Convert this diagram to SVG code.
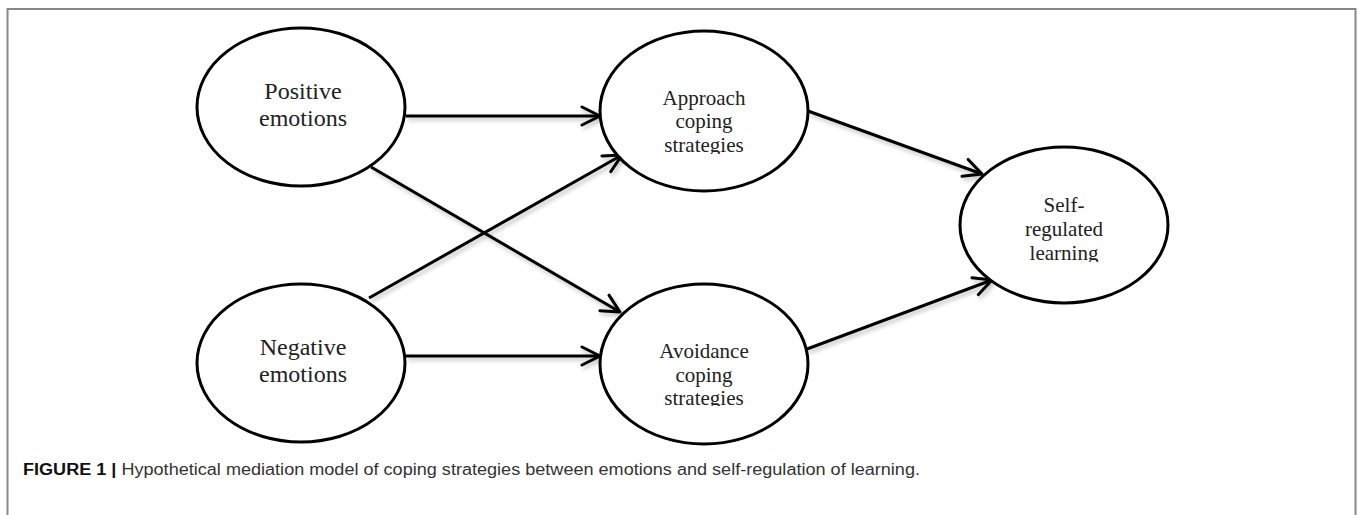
<svg xmlns="http://www.w3.org/2000/svg" width="1358" height="515" viewBox="0 0 1358 515">
<style>
.node ellipse{fill:#fff;stroke:#000;stroke-width:3}
.lbl{font-family:"Liberation Serif","Times New Roman",serif;fill:#222;text-anchor:middle}
.big{font-size:24px}
.sm{font-size:21px}
.conn line{stroke:#000;stroke-width:3;fill:none}
.cap{font-family:"Liberation Sans",Arial,sans-serif;font-size:16px;fill:#333}
</style>
<defs>
<marker id="arr" viewBox="0 0 24 24" refX="22" refY="12" markerWidth="24" markerHeight="24" markerUnits="userSpaceOnUse" orient="auto">
<path d="M4,3 L22,12 L4,21" fill="none" stroke="#000" stroke-width="3" stroke-linecap="round" stroke-linejoin="round"/>
</marker>
<filter id="sh" x="-10%" y="-10%" width="120%" height="140%">
<feGaussianBlur in="SourceAlpha" stdDeviation="2"/>
<feOffset dx="2" dy="3" result="b"/>
<feComponentTransfer><feFuncA type="linear" slope="0.25"/></feComponentTransfer>
<feMerge><feMergeNode/><feMergeNode in="SourceGraphic"/></feMerge>
</filter>
<clipPath id="c1"><rect x="600" y="30" width="210" height="124"/></clipPath>
<clipPath id="c2"><rect x="600" y="280" width="210" height="126"/></clipPath>
<clipPath id="c3"><rect x="960" y="145" width="210" height="117"/></clipPath>
</defs>
<rect width="1358" height="515" fill="#fff"/>
<path d="M7.5,515 V9 H1355.5 V515" fill="none" stroke="#888" stroke-width="2"/>

<g class="conn" filter="url(#sh)">
<line x1="406" y1="116" x2="600" y2="116" marker-end="url(#arr)"/>
<line x1="406" y1="356" x2="600" y2="356" marker-end="url(#arr)"/>
<line x1="371" y1="167" x2="620" y2="312" marker-end="url(#arr)"/>
<line x1="369" y1="298" x2="622" y2="155" marker-end="url(#arr)"/>
<line x1="808" y1="111" x2="982" y2="174" marker-end="url(#arr)"/>
<line x1="807" y1="349" x2="992" y2="280" marker-end="url(#arr)"/>
</g>

<g id="positive" class="node">
<ellipse cx="301" cy="107" rx="104" ry="79"/>
<text class="lbl big" x="303" y="99">Positive</text>
<text class="lbl big" x="303" y="126">emotions</text>
</g>
<g id="negative" class="node">
<ellipse cx="301" cy="363" rx="104" ry="79"/>
<text class="lbl big" x="303" y="355">Negative</text>
<text class="lbl big" x="303" y="382">emotions</text>
</g>
<g id="approach" class="node">
<ellipse cx="704" cy="111" rx="104" ry="80"/>
<g clip-path="url(#c1)">
<text class="lbl sm" x="704" y="105">Approach</text>
<text class="lbl sm" x="704" y="128">coping</text>
<text class="lbl sm" x="704" y="152">strategies</text>
</g>
</g>
<g id="avoidance" class="node">
<ellipse cx="704" cy="364" rx="104" ry="80"/>
<g clip-path="url(#c2)">
<text class="lbl sm" x="704" y="358">Avoidance</text>
<text class="lbl sm" x="704" y="382">coping</text>
<text class="lbl sm" x="704" y="405">strategies</text>
</g>
</g>
<g id="selfreg" class="node">
<ellipse cx="1064" cy="225" rx="104" ry="78"/>
<g clip-path="url(#c3)">
<text class="lbl sm" x="1064" y="212">Self-</text>
<text class="lbl sm" x="1064" y="236">regulated</text>
<text class="lbl sm" x="1064" y="260">learning</text>
</g>
</g>

<text class="cap" x="23" y="475" textLength="897" lengthAdjust="spacingAndGlyphs"><tspan font-weight="bold" fill="#111">FIGURE 1 |</tspan> Hypothetical mediation model of coping strategies between emotions and self-regulation of learning.</text>
</svg>
